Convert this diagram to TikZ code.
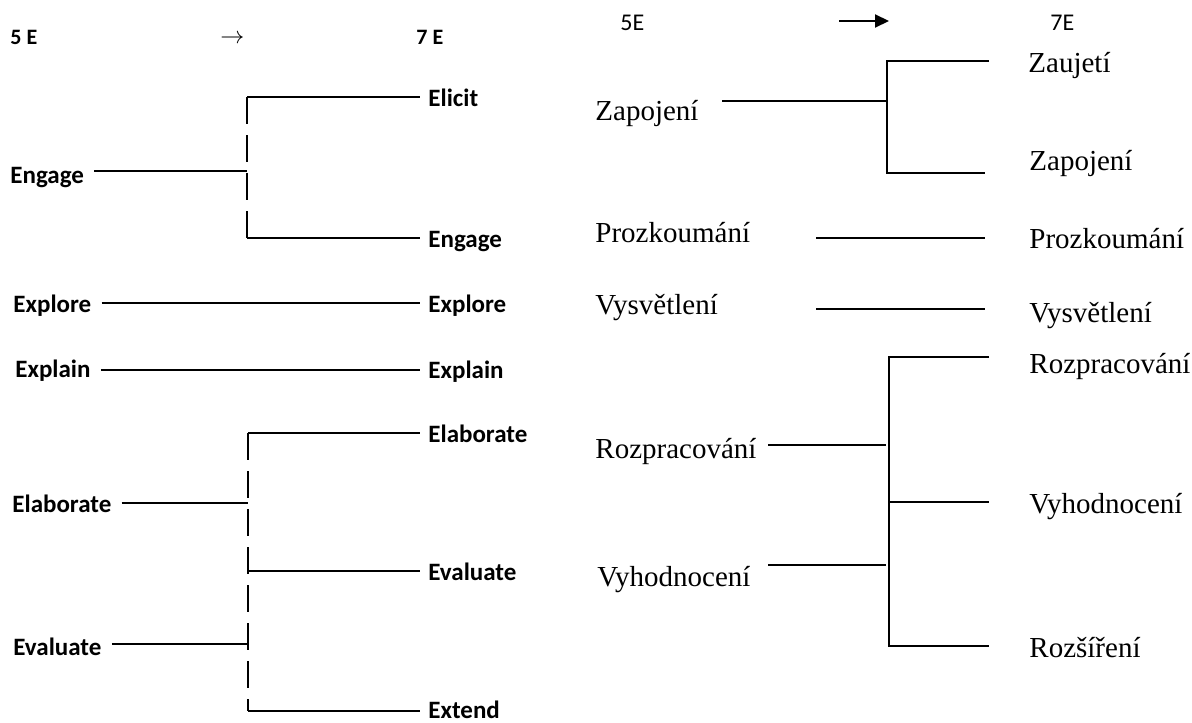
\documentclass[tikz,border=0pt]{standalone}
\usepackage{fontspec}
\setmainfont{Liberation Serif}
\newfontfamily\calibfont{Carlito}
\usetikzlibrary{arrows.meta}

\begin{document}
\begin{tikzpicture}[x=0.5pt,y=-0.5pt,
			oldtxt/.style = {anchor=base west, inner sep=0pt, font=\calibfont\bfseries\fontsize{12.5pt}{15pt}\selectfont},
			oldhead/.style = {anchor=base west, inner sep=0pt, font=\calibfont\bfseries\fontsize{11pt}{13pt}\selectfont},
			newtxt/.style = {anchor=base west, inner sep=0pt, font=\fontsize{14.5pt}{17pt}\selectfont},
			newhead/.style = {anchor=base west, inner sep=0pt, font=\calibfont\fontsize{12pt}{14pt}\selectfont},
			oldline/.style = {line width=1pt},
			oldin/.style = {oldline, shorten <=5pt},
			oldout/.style = {oldline, shorten >=4pt},
			olddash/.style = {line width=1pt, dash pattern=on 13.5pt off 5.5pt},
			newline/.style = {line width=0.7pt},
			freeline/.style = {line width=0.9pt}
			]
			\useasboundingbox (0,0) rectangle (1192,722);
			% left: 5 E -> 7 E
			\node [oldhead] (o5) at (10,45) {5 E};
			\node [anchor=base west, inner sep=0pt, font=\fontsize{12.5pt}{15pt}\selectfont] (oarrow) at (220,44) {$\rightarrow$};
			\node [oldhead] (o7) at (416,45) {7 E};
			\node [oldtxt] (oEngage) at (10,183) {Engage};
			\node [oldtxt] (oExplore) at (13,312) {Explore};
			\node [oldtxt] (oExplain) at (15,377) {Explain};
			\node [oldtxt] (oElaborate) at (12,512) {Elaborate};
			\node [oldtxt] (oEvaluate) at (13,655) {Evaluate};
			\node [oldtxt] (sElicit) at (428,106) {Elicit};
			\node [oldtxt] (sEngage) at (428,247) {Engage};
			\node [oldtxt] (sExplore) at (428,312) {Explore};
			\node [oldtxt] (sExplain) at (428,378) {Explain};
			\node [oldtxt] (sElaborate) at (428,442) {Elaborate};
			\node [oldtxt] (sEvaluate) at (428,580) {Evaluate};
			\node [oldtxt] (sExtend) at (428,718) {Extend};
			\coordinate (eTop) at (247,97);
			\coordinate (eMid) at (247,171);
			\coordinate (eBot) at (247,238);
			\coordinate (rowExplore) at (247,303);
			\coordinate (rowExplain) at (247,370);
			\coordinate (fTop) at (248,433);
			\coordinate (fA) at (248,503);
			\coordinate (fMid) at (248,571);
			\coordinate (fB) at (248,644);
			\coordinate (fBot) at (248,711);
			\draw[olddash] (eTop) -- (eBot);
			\draw[oldout] (eTop) -- (sElicit.west |- eTop);
			\draw[oldin] (oEngage.east |- eMid) -- (eMid);
			\draw[oldout] (eBot) -- (sEngage.west |- eBot);
			\draw[oldin,shorten >=4pt] (oExplore.east |- rowExplore) -- (sExplore.west |- rowExplore);
			\draw[oldin,shorten >=4pt] (oExplain.east |- rowExplain) -- (sExplain.west |- rowExplain);
			\draw[olddash] (fTop) -- (fBot);
			\draw[oldout] (fTop) -- (sElaborate.west |- fTop);
			\draw[oldin] (oElaborate.east |- fA) -- (fA);
			\draw[oldout] (fMid) -- (sEvaluate.west |- fMid);
			\draw[oldin] (oEvaluate.east |- fB) -- (fB);
			\draw[oldout] (fBot) -- (sExtend.west |- fBot);
			% right: 5E -> 7E
			\node [newhead] (n5) at (620,31) {5E};
			\coordinate (arrA) at (839,21);
			\coordinate (arrB) at (889,21);
			\draw[line width=1pt,-{Triangle[length=7pt,width=6.5pt]}] (arrA) -- (arrB);
			\node [newhead] (n7) at (1050,31) {7E};
			\node [newtxt] (nZapojeni) at (595,120) {Zapojení};
			\node [newtxt] (nProzkoumani) at (595,242) {Prozkoumání};
			\node [newtxt] (nVysvetleni) at (595,314) {Vysvětlení};
			\node [newtxt] (nRozpracovani) at (595,458) {Rozpracování};
			\node [newtxt] (nVyhodnoceni) at (597,586) {Vyhodnocení};
			\node [newtxt] (mZaujeti) at (1028,73) {Zaujetí};
			\node [newtxt] (mZapojeni) at (1029,170) {Zapojení};
			\node [newtxt] (mProzkoumani) at (1029,248) {Prozkoumání};
			\node [newtxt] (mVysvetleni) at (1029,322) {Vysvětlení};
			\node [newtxt] (mRozpracovani) at (1029,373) {Rozpracování};
			\node [newtxt] (mVyhodnoceni) at (1029,513) {Vyhodnocení};
			\node [newtxt] (mRozsireni) at (1029,657) {Rozšíření};
			\coordinate (zT) at (887,61);
			\coordinate (zM) at (887,101);
			\coordinate (zB) at (887,173);
			\coordinate (zTe) at (989,61);
			\coordinate (zBe) at (985,173);
			\coordinate (zMs) at (722,101);
			\draw[newline] (zTe) -- (zT) -- (zB) -- (zBe);
			\draw[newline] (zMs) -- (zM);
			\coordinate (pzA) at (816,238);
			\coordinate (pzB) at (985,238);
			\coordinate (vsA) at (816,309);
			\coordinate (vsB) at (985,309);
			\draw[freeline] (pzA) -- (pzB);
			\draw[freeline] (vsA) -- (vsB);
			\coordinate (rT) at (889,357);
			\coordinate (rV) at (889,502);
			\coordinate (rB) at (889,646);
			\coordinate (rTe) at (989,357);
			\coordinate (rVe) at (989,502);
			\coordinate (rBe) at (989,646);
			\coordinate (rA) at (886,445);
			\coordinate (rAs) at (768,445);
			\coordinate (rC) at (886,565);
			\coordinate (rCs) at (768,565);
			\draw[newline] (rTe) -- (rT) -- (rB) -- (rBe);
			\draw[newline] (rV) -- (rVe);
			\draw[newline] (rAs) -- (rA);
			\draw[newline] (rCs) -- (rC);
		\end{tikzpicture}
\end{document}
